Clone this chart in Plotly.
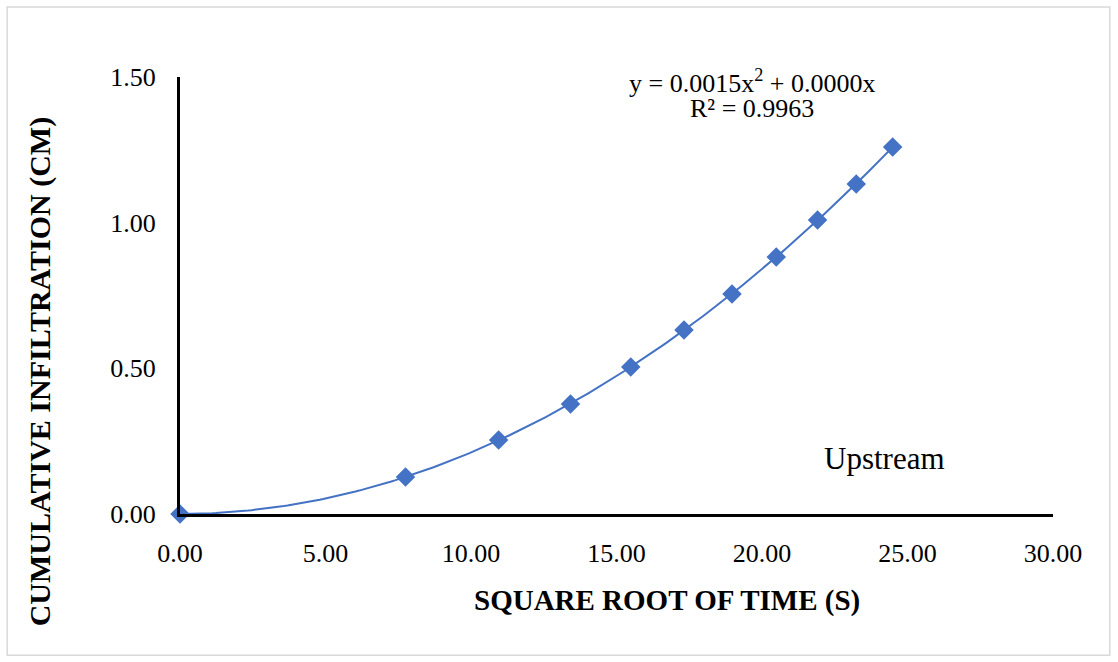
import numpy as np
import plotly.graph_objects as go

# Square root of time (s) and cumulative infiltration (cm), upstream station
sqrt_time = [0.00, 7.75, 10.95, 13.42, 15.49, 17.32, 18.97, 20.49, 21.91, 23.24, 24.49]
infiltration = [0.000, 0.127, 0.254, 0.378, 0.505, 0.632, 0.755, 0.882, 1.009, 1.133, 1.260]

x_ticks = [0, 5, 10, 15, 20, 25, 30]
y_ticks = [0.0, 0.5, 1.0, 1.5]

# Quadratic trendline through the origin, fitted to the measurements
xs = np.array(sqrt_time)
ys = np.array(infiltration)
A = np.vstack([xs**2, xs]).T
coef, *_ = np.linalg.lstsq(A, ys, rcond=None)
x_fit = np.linspace(0, max(sqrt_time), 200)
y_fit = coef[0] * x_fit**2 + coef[1] * x_fit

BLUE = "#4472C4"
FONT = "Liberation Serif"

fig = go.Figure()
fig.add_trace(go.Scatter(
    x=x_fit, y=y_fit, mode="lines",
    line=dict(color=BLUE, width=2),
    hoverinfo="skip", showlegend=False, cliponaxis=False,
))
fig.add_trace(go.Scatter(
    x=sqrt_time, y=infiltration, mode="markers",
    marker=dict(symbol="diamond", size=15, color=BLUE),
    showlegend=False, cliponaxis=False,
))

fig.update_layout(
    width=1118, height=662,
    margin=dict(l=180, r=65, t=77, b=148),
    paper_bgcolor="white", plot_bgcolor="white",
    font=dict(family=FONT, color="black", size=26),
    xaxis=dict(
        range=[0, 30], tickvals=x_ticks,
        ticktext=[f"{v:.2f}" for v in x_ticks],
        showgrid=False, zeroline=False,
        showline=True, linecolor="black", linewidth=3,
        ticks="outside", ticklen=14, tickcolor="rgba(0,0,0,0)",
        tickfont=dict(family=FONT, size=26),
    ),
    yaxis=dict(
        range=[0, 1.5], tickvals=y_ticks,
        ticktext=[f"{v:.2f}" for v in y_ticks],
        showgrid=False, zeroline=False,
        showline=True, linecolor="black", linewidth=3,
        ticks="outside", ticklen=16, tickcolor="rgba(0,0,0,0)",
        tickfont=dict(family=FONT, size=26),
    ),
    shapes=[dict(
        type="rect", xref="paper", yref="paper",
        x0=-0.198, x1=1.065, y0=-0.323, y1=1.160,
        line=dict(color="#d9d9d9", width=1.5), layer="below",
    )],
    annotations=[
        # axis titles
        dict(text="<b>SQUARE ROOT OF TIME (S)</b>",
             x=0.558, y=-0.197, xref="paper", yref="paper", showarrow=False,
             xanchor="center", yanchor="middle",
             font=dict(family=FONT, size=29)),
        dict(text="<b>CUMULATIVE INFILTRATION (CM)</b>", textangle=-90,
             x=-0.160, y=0.325, xref="paper", yref="paper", showarrow=False,
             xanchor="center", yanchor="middle",
             font=dict(family=FONT, size=30)),
        # trendline equation
        dict(text="y = 0.0015x<sup>2</sup> + 0.0000x",
             x=0.655, y=0.989, xref="paper", yref="paper", showarrow=False,
             xanchor="center", yanchor="middle",
             font=dict(family=FONT, size=26)),
        dict(text="R² = 0.9963",
             x=0.655, y=0.929, xref="paper", yref="paper", showarrow=False,
             xanchor="center", yanchor="middle",
             font=dict(family=FONT, size=26)),
        dict(text="Upstream", x=(884 - 180) / 29.1, y=0.19,
             xref="x", yref="y", showarrow=False,
             font=dict(family=FONT, size=31)),
    ],
)

fig.write_html("out.html")
